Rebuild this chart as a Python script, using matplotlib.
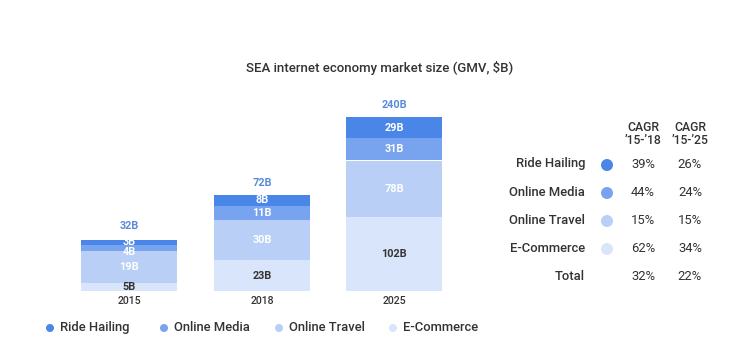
import matplotlib
matplotlib.use("Agg")
import matplotlib.pyplot as plt

plt.rcParams['font.family'] = ['Roboto', 'DejaVu Sans']

years = ['2015', '2018', '2025']
series = ['E-Commerce', 'Online Travel', 'Online Media', 'Ride Hailing']
ecommerce = [5, 23, 102]
online_travel = [19, 30, 78]
online_media = [4, 11, 31]
ride_hailing = [3, 8, 29]
totals = [32, 72, 240]

cagr_rows = ['Ride Hailing', 'Online Media', 'Online Travel', 'E-Commerce', 'Total']
cagr_15_18 = ['39%', '44%', '15%', '62%', '32%']
cagr_15_25 = ['26%', '24%', '15%', '34%', '22%']
cagr_headers = ['CAGR\n’15-’18', 'CAGR\n’15-’25']

legend_order = ['Ride Hailing', 'Online Media', 'Online Travel', 'E-Commerce']

colors = {
    'Ride Hailing': '#4a86e8',
    'Online Media': '#78a3ee',
    'Online Travel': '#b9cff6',
    'E-Commerce': '#d9e5fa',
}
label_colors = {
    'Ride Hailing': 'white',
    'Online Media': 'white',
    'Online Travel': 'white',
    'E-Commerce': '#333333',
}

W, H = 754, 363
fig = plt.figure(figsize=(W / 100, H / 100), dpi=100)


def fx(x):
    return x / W


def fy(y):
    return 1 - y / H


DARK = '#333333'

fig.text(fx(380), fy(68), 'SEA internet economy market size (GMV, $B)',
         ha='center', va='center', fontsize=9.5, color=DARK, fontweight='medium')

# one axes per bar (infographic-style: each bar has its own height)
centers_px = [129, 262, 394]
bar_px = [53, 96, 174]
base_px = 291
top_px = 90
axis_w_px = 132
data_by_series = {
    'E-Commerce': ecommerce,
    'Online Travel': online_travel,
    'Online Media': online_media,
    'Ride Hailing': ride_hailing,
}
label_nudge = {('2015', 'Ride Hailing'): 0.3, ('2015', 'Online Media'): -2.6}

for i, yr in enumerate(years):
    ax = fig.add_axes([fx(centers_px[i] - axis_w_px / 2), fy(base_px),
                       fx(axis_w_px), (base_px - top_px) / H])
    ax.set_xlim(-0.5, 0.5)
    ax.set_ylim(0, totals[i] * (base_px - top_px) / bar_px[i])
    bottom = 0
    for s in series:
        v = data_by_series[s][i]
        ax.bar(0, v, bottom=bottom, width=96 / axis_w_px, color=colors[s],
               edgecolor='none')
        ax.annotate(f'{v}B', (0, bottom + v / 2),
                    xytext=(0, label_nudge.get((yr, s), 0)), textcoords='offset points',
                    ha='center', va='center', fontsize=7.8, fontweight='bold',
                    color=label_colors[s])
        bottom += v
    ax.annotate(f'{totals[i]}B', (0, totals[i]), xytext=(0, 8.5),
                textcoords='offset points', ha='center', va='center',
                fontsize=7.8, fontweight='bold', color='#5b8bd8')
    ax.set_xticks([0])
    ax.set_xticklabels([yr], fontsize=7.6, fontweight='medium', color=DARK)
    ax.tick_params(axis='x', length=0, pad=3.5)
    ax.set_yticks([])
    for sp in ax.spines.values():
        sp.set_visible(False)
    ax.patch.set_alpha(0)

# CAGR table
col_x = [643, 690]
for j, h in enumerate(cagr_headers):
    fig.text(fx(col_x[j]), fy(134), h, ha='center', va='center', fontsize=8.8,
             fontweight='medium', color=DARK, linespacing=0.95)

row_y = [164, 192, 220, 248, 276]
for k, name in enumerate(cagr_rows):
    fig.text(fx(585), fy(row_y[k]), name, ha='right', va='center', fontsize=9.4,
             fontweight='medium', color=DARK)
    if name in colors:
        fig.patches.append(matplotlib.patches.Ellipse(
            (fx(607), fy(row_y[k] + 1)), fx(12), 12 / H, transform=fig.transFigure,
            facecolor=colors[name], edgecolor='none'))
    fig.text(fx(col_x[0]), fy(row_y[k]), cagr_15_18[k], ha='center', va='center',
             fontsize=9.4, color=DARK)
    fig.text(fx(col_x[1]), fy(row_y[k]), cagr_15_25[k], ha='center', va='center',
             fontsize=9.4, color=DARK)

# legend at bottom
leg_x = [50, 164, 279, 393]
for k, name in enumerate(legend_order):
    fig.patches.append(matplotlib.patches.Ellipse(
        (fx(leg_x[k]), fy(328)), fx(8), 8 / H, transform=fig.transFigure,
        facecolor=colors[name], edgecolor='none'))
    fig.text(fx(leg_x[k] + 10), fy(327.5), name, ha='left', va='center', fontsize=9.4,
             fontweight='medium', color=DARK)

fig.savefig('out.png', dpi=100)
